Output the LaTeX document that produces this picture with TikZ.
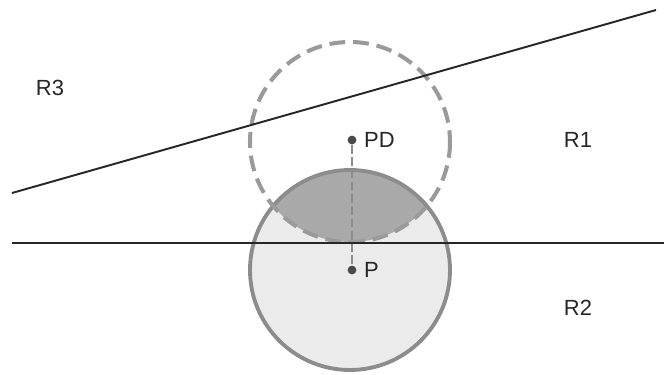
\documentclass[tikz,border=0pt]{standalone}
\usepackage{fontspec}
\setmainfont{Liberation Sans}
\usetikzlibrary{positioning}
\definecolor{discfill} {HTML}{EBEBEB}
\definecolor{lensfill} {HTML}{A9A9A9}
\definecolor{rimgray}  {HTML}{8C8C8C}
\definecolor{dashgray} {HTML}{9A9A9A}
\definecolor{dotgray}  {HTML}{4A4A4A}
\tikzset{
  region/.style={font=\fontsize{12.5}{14}\selectfont, text=black!85, inner sep=1pt},
  ptlabel/.style={font=\fontsize{12.5}{14}\selectfont, text=black!85, inner sep=1pt},
  ptdot/.style={circle, fill=dotgray, minimum size=5pt, inner sep=0pt},
  boundary/.style={line width=1.1pt, color=black!85},
  rimline/.style={line width=2.2pt, color=rimgray},
  dashrim/.style={line width=2.3pt, color=dashgray, dash pattern=on 9pt off 4.5pt},
  linkline/.style={line width=0.7pt, color=rimgray, dash pattern=on 5pt off 2pt}
}
\begin{document}
\begin{tikzpicture}[x=0.02cm, y=-0.02cm]
  \useasboundingbox[fill=white] (0,0) rectangle (664,375);

  % discs
  \fill[discfill] (350,270) circle[radius=100];
  \begin{scope}
    \clip (350,270) circle[radius=100];
    \fill[lensfill] (350,142) circle[radius=100];
  \end{scope}
  \draw[rimline] (350,270) circle[radius=100];
  \draw[dashrim] (350,142) circle[radius=100];

  % points
  \node[ptdot] (pd) at (352,140) {};
  \node[ptdot] (p) at (352,270) {};
  \draw[linkline] (pd) -- (p);
  \node[ptlabel, right=3pt of pd] (pdlab) {PD};
  \node[ptlabel, right=3pt of p] (plab) {P};

  % boundaries
  \coordinate (hl) at (12,243);
  \coordinate (hr) at (664,243);
  \coordinate (sl) at (12,193);
  \coordinate (sr) at (656,10);
  \draw[boundary] (hl) -- (hr);
  \draw[boundary] (sl) -- (sr);

  % regions
  \node[region] (r3) at (50,88) {R3};
  \node[region] (r1) at (578,140) {R1};
  \node[region] (r2) at (578,308) {R2};
\end{tikzpicture}
\end{document}
